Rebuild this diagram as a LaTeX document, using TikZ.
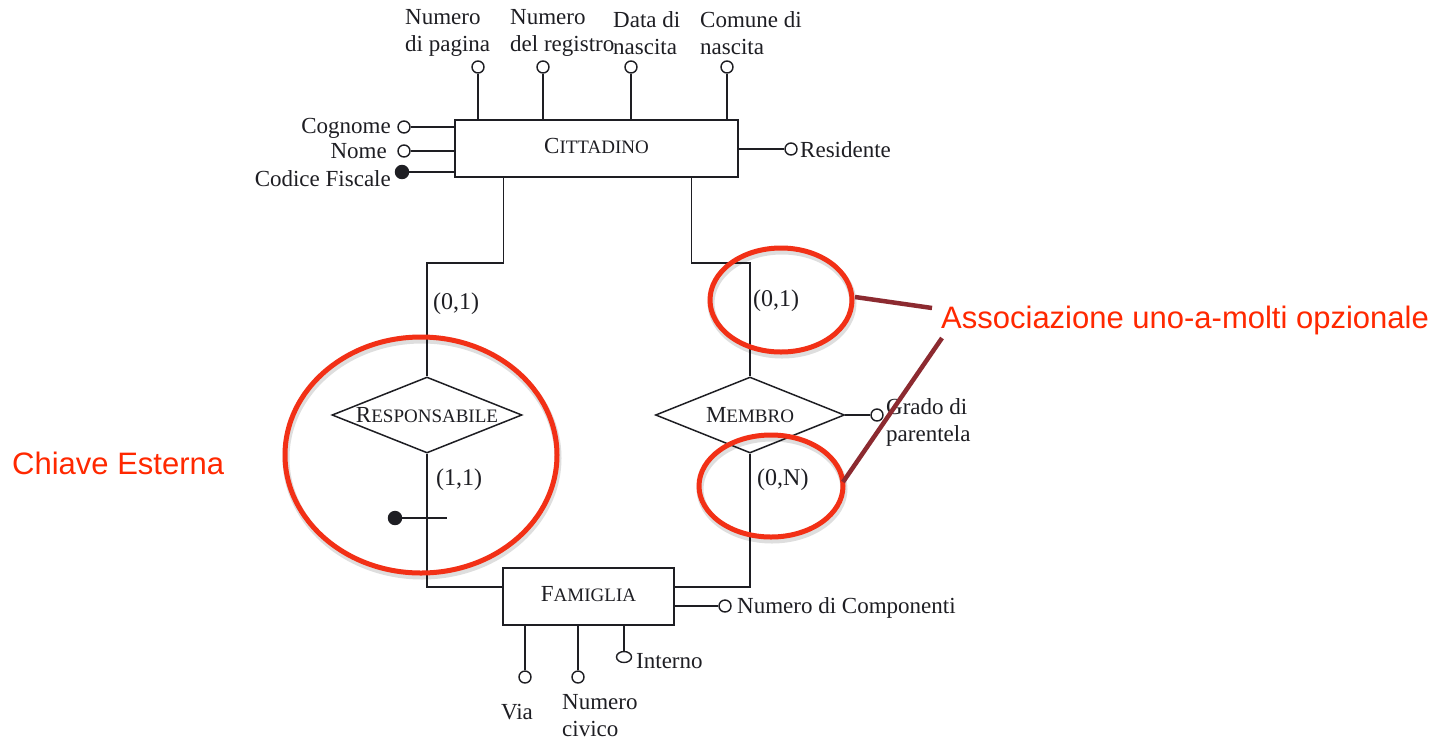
\documentclass[tikz,border=0pt]{standalone}
\usepackage{fontspec}
\setmainfont{Liberation Serif}
\newfontfamily\annotfont{Liberation Sans}
\usetikzlibrary{shapes.geometric}

\definecolor{ink}{RGB}{30,30,35}
\definecolor{ringred}{RGB}{242,48,22}
\definecolor{notered}{RGB}{255,40,0}
\definecolor{leader}{RGB}{140,42,48}

% entity / relationship names: first letter full size, rest small capitals
\newcommand\ersc[2]{{\fontsize{23}{27}\selectfont #1}{\fontsize{19}{23}\selectfont #2}}

\begin{document}
\begin{tikzpicture}[x=1pt,y=-1pt,
  every node/.style={font=\fontsize{23}{27}\selectfont, text=ink},
  lbl/.style={inner sep=0pt},
  line/.style={draw=ink, line width=1.5pt},
  entity/.style={rectangle, draw=ink, line width=1.5pt, inner sep=0pt},
  relation/.style={diamond, draw=ink, line width=1.5pt, inner sep=0pt,
                   minimum width=190pt, minimum height=76pt},
  attr/.style={circle, draw=ink, line width=1.4pt, fill=white,
               minimum size=12pt, inner sep=0pt},
  keyattr/.style={attr, fill=ink, minimum size=13pt},
  card/.style={lbl, anchor=west, font=\fontsize{24}{28}\selectfont},
  ring/.style={draw=ringred, line width=5pt},
  ringshadow/.style={draw=black, opacity=0.13, line width=7pt},
  leaderline/.style={draw=leader, line width=4.5pt},
  note/.style={lbl, text=notered, font=\annotfont\fontsize{31}{36}\selectfont}]

\useasboundingbox[fill=white] (0,0) rectangle (1451,740);

% ---------------- entities and relationships ----------------
\node[entity, minimum width=283pt, minimum height=57pt] (citt) at (596.5,148.5)
  {\raisebox{5pt}{\ersc{C}{ITTADINO}}};
\node[entity, minimum width=171pt, minimum height=57pt] (fam) at (588.5,596.5)
  {\raisebox{5pt}{\ersc{F}{AMIGLIA}}};
\node[relation] (resp) at (427,415) {\makebox[0pt]{\ersc{R}{ESPONSABILE}}};
\node[relation, minimum width=189pt] (memb) at (750,415) {\makebox[0pt]{\ersc{M}{EMBRO}}};

% ---------------- links ----------------
\draw[line] ([xshift=49pt]citt.south west) -- ++(0,85) -| (resp.north);
\draw[line] ([xshift=237pt]citt.south west) -- ++(0,85) -| (memb.north);
\draw[line] (resp.south) |- ([yshift=9.5pt]fam.west);
\draw[line] (memb.south) |- ([yshift=9.5pt]fam.east);

% cardinalities
\node[card] (cr1) at (433,304) {(0,1)};
\node[card] (cr2) at (436,480) {(1,1)};
\node[card] (cm1) at (753,301) {(0,1)};
\node[card] (cm2) at (757,480) {(0,N)};

% ---------------- attributes of CITTADINO ----------------
\node[attr] (npag) at (478,67) {};
\node[attr] (nreg) at (543,67) {};
\node[attr] (dnas) at (631,67) {};
\node[attr] (cnas) at (727,67) {};
\foreach \a in {npag,nreg,dnas,cnas} \draw[line] (\a) -- (\a |- citt.north);
\node[lbl, anchor=west, align=left] (lnpag) at (405,33) {Numero\\di pagina};
\node[lbl, anchor=west, align=left] (lnreg) at (510,33) {Numero\\del registro};
\node[lbl, anchor=west, align=left] (ldnas) at (613,33) {Data di\\nascita};
\node[lbl, anchor=west, align=left] (lcnas) at (700,33) {Comune di\\nascita};

\node[attr] (cog) at (404,127) {};
\node[attr] (nom) at (404,151) {};
\node[keyattr] (cf) at (402,172) {};
\foreach \a in {cog,nom,cf} \draw[line] (\a) -- (\a -| citt.west);
\node[lbl, anchor=east] (lcog) at (391,128) {Cognome};
\node[lbl, anchor=east] (lnom) at (387,151) {Nome};
\node[lbl, anchor=east] (lcf) at (391,179) {Codice Fiscale};

\node[attr] (res) at (791,149) {};
\draw[line] (res) -- (res -| citt.east);
\node[lbl, anchor=west] (lres) at (800,150) {Residente};

% ---------------- attribute of MEMBRO ----------------
\node[attr] (gdp) at (877,415) {};
\draw[line] (gdp) -- (memb.east);
\node[lbl, anchor=west, align=left] (lgdp) at (886,422) {Grado di\\parentela};

% ---------------- attributes of FAMIGLIA ----------------
\node[attr] (ncomp) at (725,606) {};
\draw[line] (ncomp) -- (ncomp -| fam.east);
\node[lbl, anchor=west] (lncomp) at (737,608) {Numero di Componenti};

\node[attr] (via) at (525,677) {};
\node[attr] (nciv) at (578,677) {};
\node[attr, ellipse, minimum width=15pt, minimum height=11pt] (intn) at (624,657) {};
\foreach \a in {via,nciv,intn} \draw[line] (\a) -- (\a |- fam.south);
\node[lbl] (lvia) at (517,712) {Via};
\node[lbl, anchor=west, align=left] (lnciv) at (562,716) {Numero\\civico};
\node[lbl, anchor=west] (lintn) at (636,661) {Interno};

% external key marker on the RESPONSABILE link
\node[keyattr] (ek) at (395,518) {};
\coordinate (ekend) at (447,518);
\draw[line] (ek) -- (ekend);

% ---------------- annotations ----------------
\draw[ringshadow] (422,458) ellipse [x radius=136pt, y radius=118pt];
\draw[ringshadow] (782,303) ellipse [x radius=71pt, y radius=52pt];
\draw[ringshadow] (772,489) ellipse [x radius=72pt, y radius=51pt];
\draw[ring] (421,455) ellipse [x radius=136pt, y radius=118pt];
\draw[ring] (781,300) ellipse [x radius=71pt, y radius=52pt];
\draw[ring] (771,486) ellipse [x radius=72pt, y radius=51pt];

\node[note, anchor=west] (assoc) at (941,320) {Associazione uno-a-molti opzionale};
\node[note, anchor=west] (chiave) at (12,463) {Chiave Esterna};

\coordinate (l1a) at (855,297);
\coordinate (l1b) at (932,308);
\coordinate (l2a) at (843,482);
\coordinate (l2b) at (942,338);
\draw[leaderline] (l1a) -- (l1b);
\draw[leaderline] (l2a) -- (l2b);
\end{tikzpicture}
\end{document}
